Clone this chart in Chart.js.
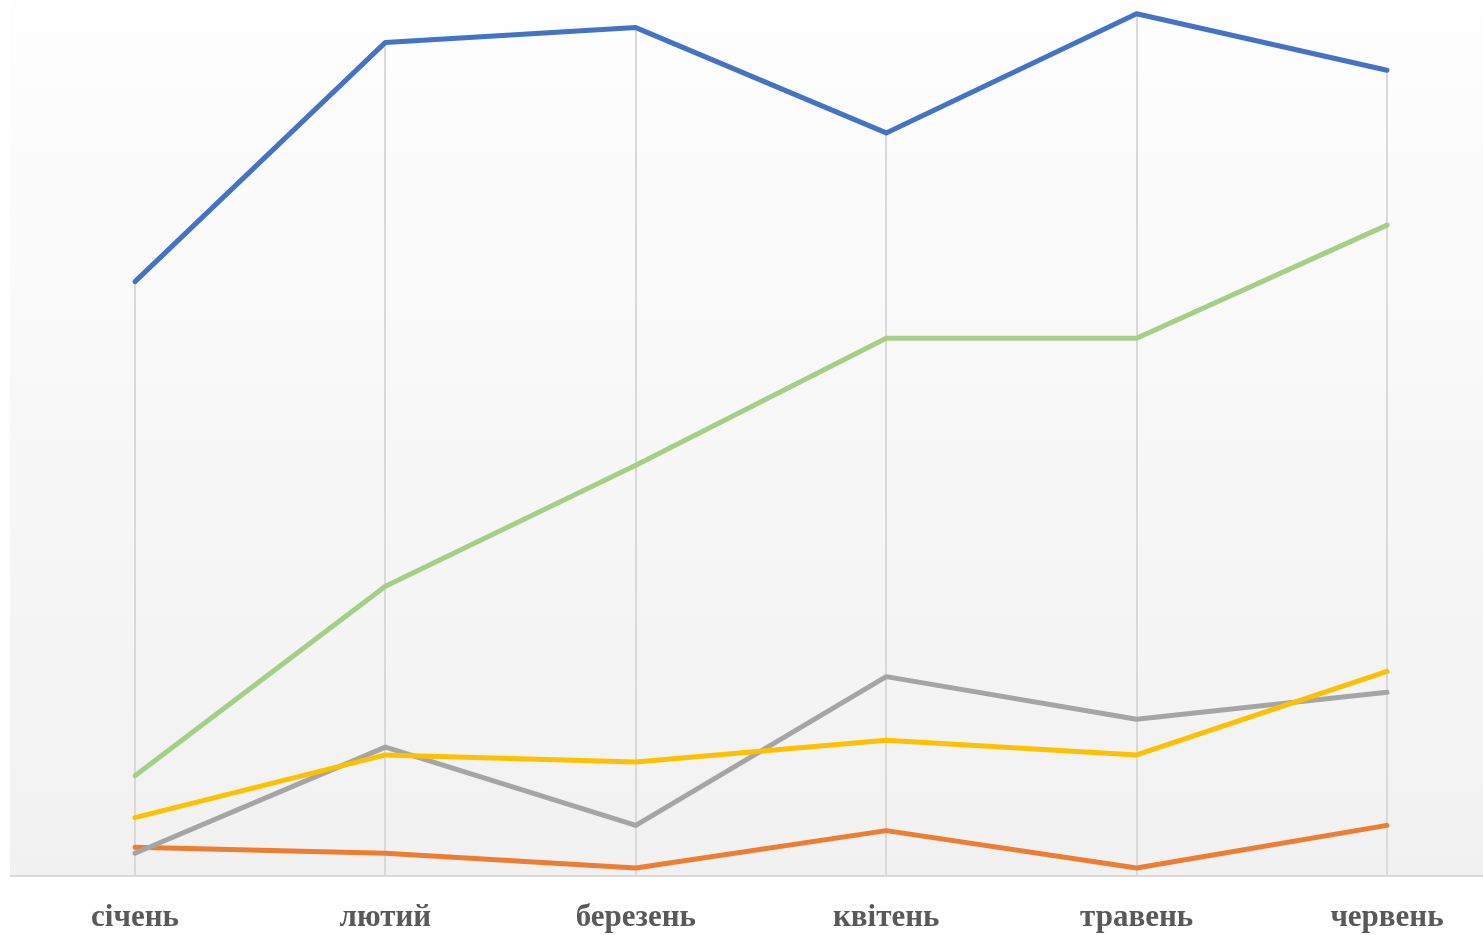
<!DOCTYPE html>
<html>
<head>
<meta charset="utf-8">
<script src="https://cdn.jsdelivr.net/npm/chart.js@4/dist/chart.umd.min.js"></script>
<style>
  html, body { margin: 0; padding: 0; background: #ffffff; }
  #wrap { width: 1483px; height: 935px; position: relative; }
</style>
</head>
<body>
<div id="wrap"><canvas id="c" width="1483" height="935"></canvas></div>
<script>
const categories = ["січень", "лютий", "березень", "квітень", "травень", "червень"];
const seriesBlue   = [68.2, 95.7, 97.4, 85.3, 99.0, 92.5];
const seriesOrange = [3.2, 2.5, 0.8, 5.1, 0.8, 5.7];
const seriesGray   = [2.5, 14.7, 5.7, 22.8, 17.9, 21.0];
const seriesYellow = [6.6, 13.8, 13.0, 15.5, 13.8, 23.4];
const seriesGreen  = [11.4, 33.2, 47.1, 61.7, 61.7, 74.7];
const yMin = 0;
const yMax = 100;

const bgPlugin = {
  id: 'bgPlugin',
  beforeDraw(chart) {
    const ctx = chart.ctx;
    const area = chart.chartArea;
    ctx.save();
    const g = ctx.createLinearGradient(0, 0, 0, area.bottom);
    g.addColorStop(0, '#fefefe');
    g.addColorStop(1, '#f1f1f1');
    ctx.fillStyle = g;
    ctx.fillRect(10, 0, chart.width - 10, area.bottom);
    ctx.restore();
  },
  beforeDatasetsDraw(chart) {
    const ctx = chart.ctx;
    const area = chart.chartArea;
    const xs = chart.scales.x;
    const ys = chart.scales.y;
    ctx.save();
    ctx.strokeStyle = '#d9d9d9';
    ctx.lineWidth = 2;
    categories.forEach((c, i) => {
      let top = Infinity;
      chart.data.datasets.forEach(ds => {
        top = Math.min(top, ys.getPixelForValue(ds.data[i]));
      });
      const x = Math.round(xs.getPixelForValue(i));
      ctx.beginPath();
      ctx.moveTo(x, top);
      ctx.lineTo(x, area.bottom);
      ctx.stroke();
    });
    ctx.beginPath();
    ctx.moveTo(10, area.bottom + 1);
    ctx.lineTo(chart.width, area.bottom + 1);
    ctx.stroke();
    ctx.restore();
  }
};

const mk = (data, color, order) => ({
  data, borderColor: color, backgroundColor: color, borderWidth: 5,
  pointRadius: 0, pointHoverRadius: 0, tension: 0, fill: false,
  borderJoinStyle: 'round', borderCapStyle: 'round', order, clip: false
});

new Chart(document.getElementById('c'), {
  type: 'line',
  data: {
    labels: categories,
    datasets: [
      mk(seriesBlue, '#4472c4', 4),
      mk(seriesOrange, '#ed7d31', 3),
      mk(seriesGray, '#a5a5a5', 2),
      mk(seriesYellow, '#ffc000', 1),
      mk(seriesGreen, '#a3cf86', 0)
    ]
  },
  options: {
    responsive: false,
    animation: false,
    layout: { padding: { left: 135, right: 96, top: 5, bottom: 0 } },
    plugins: { legend: { display: false }, tooltip: { enabled: false } },
    scales: {
      x: {
        offset: false,
        afterFit(scale) { scale.height = 60; },
        grid: { display: false, drawTicks: false },
        border: { display: false },
        ticks: {
          padding: 24, maxRotation: 0, autoSkip: false,
          color: '#595959',
          font: { family: '"Liberation Serif", "Times New Roman", serif', size: 31, weight: 'bold' }
        }
      },
      y: {
        display: false,
        min: yMin, max: yMax
      }
    }
  },
  plugins: [bgPlugin]
});
</script>
</body>
</html>
